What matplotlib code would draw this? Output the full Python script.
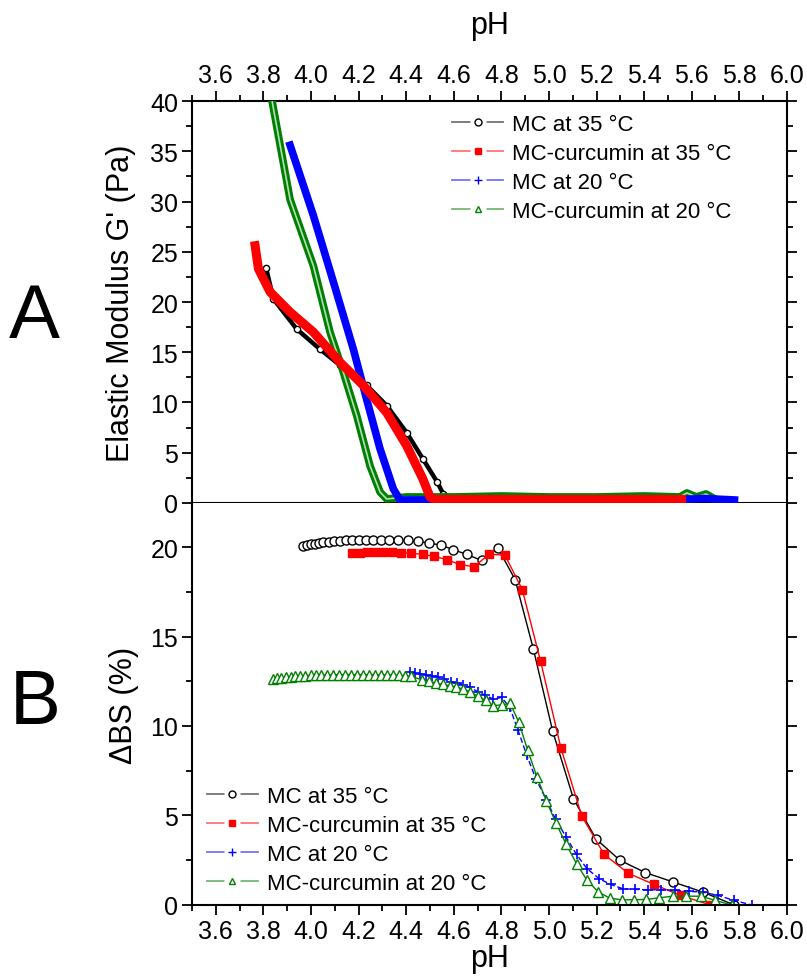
import matplotlib
matplotlib.use('Agg')
import matplotlib.pyplot as plt
from matplotlib.lines import Line2D
from matplotlib.ticker import MultipleLocator

plt.rcParams['font.family'] = ['Liberation Sans', 'DejaVu Sans']

# ---- panel A: elastic modulus G' vs pH ----
a_mc35_ph = [3.811, 3.842, 3.94, 4.038, 4.122, 4.234, 4.318, 4.402, 4.47, 4.53, 4.556, 4.60, 4.9, 5.2, 5.5]
a_mc35_g = [23.4, 20.3, 17.3, 15.3, 13.7, 11.7, 9.7, 7.0, 4.4, 2.1, 0.9, 0.4, 0.4, 0.4, 0.4]

a_cur35_ph = [3.765, 3.779, 3.828, 3.912, 4.01, 4.122, 4.22, 4.318, 4.402, 4.47, 4.5, 4.52, 5.0, 5.557]
a_cur35_g = [25.6, 23.3, 21.0, 19.0, 17.0, 14.0, 11.7, 9.0, 5.7, 2.4, 0.6, 0.35, 0.35, 0.35]

a_mc20_ph = [3.912, 4.01, 4.094, 4.178, 4.234, 4.29, 4.346, 4.374, 4.40, 5.0, 5.56, 5.65, 5.78]
a_mc20_g = [35.6, 28.6, 22.0, 15.3, 10.3, 5.4, 1.4, 0.3, 0.3, 0.35, 0.35, 0.45, 0.3]

a_cur20_ph = [3.837, 3.912, 4.01, 4.08, 4.136, 4.192, 4.248, 4.29, 4.318, 4.40, 4.6, 4.8, 5.0,
              5.2, 5.4, 5.55, 5.58, 5.62, 5.66, 5.69]
a_cur20_g = [39.9, 30.2, 23.6, 17.0, 13.0, 8.7, 3.7, 1.1, 0.4, 0.6, 0.6, 0.7, 0.6,
             0.6, 0.7, 0.6, 1.0, 0.6, 0.9, 0.5]

# ---- panel B: delta backscattering vs pH ----
b_mc35_ph = [3.965, 3.982, 3.999, 4.015, 4.032, 4.052, 4.074, 4.097, 4.122, 4.147, 4.172, 4.200,
             4.231, 4.262, 4.294, 4.329, 4.366, 4.406, 4.450, 4.494, 4.546, 4.598, 4.654, 4.717,
             4.786, 4.858, 4.935, 5.016, 5.103, 5.198, 5.298, 5.405, 5.523, 5.647, 5.779]
b_mc35_bs = [20.04, 20.11, 20.15, 20.19, 20.22, 20.26, 20.30, 20.32, 20.35, 20.37, 20.39, 20.41,
             20.42, 20.42, 20.42, 20.41, 20.39, 20.37, 20.32, 20.22, 20.11, 19.85, 19.59, 19.25,
             19.93, 18.18, 14.28, 9.70, 5.94, 3.69, 2.50, 1.81, 1.28, 0.72, 0.0]

b_cur35_ph = [4.174, 4.204, 4.235, 4.268, 4.303, 4.339, 4.378, 4.420, 4.469, 4.517, 4.570, 4.626,
              4.685, 4.748, 4.815, 4.888, 4.965, 5.050, 5.138, 5.232, 5.334, 5.441, 5.554, 5.679]
b_cur35_bs = [19.66, 19.68, 19.70, 19.70, 19.70, 19.70, 19.68, 19.65, 19.59, 19.48, 19.30, 19.02,
              18.90, 19.59, 19.55, 17.62, 13.62, 8.79, 4.97, 2.82, 1.77, 1.15, 0.53, 0.0]

b_mc20_ph = [4.416, 4.437, 4.458, 4.483, 4.507, 4.532, 4.560, 4.587, 4.612, 4.640, 4.668, 4.700,
             4.731, 4.766, 4.801, 4.835, 4.870, 4.907, 4.945, 4.989, 5.028, 5.072, 5.116, 5.160,
             5.211, 5.259, 5.310, 5.362, 5.416, 5.472, 5.529, 5.588, 5.647, 5.711, 5.780, 5.852]
b_mc20_bs = [13.0, 12.96, 12.91, 12.85, 12.81, 12.74, 12.61, 12.48, 12.40, 12.29, 12.16, 11.92,
             11.73, 11.50, 11.60, 11.05, 9.77, 8.36, 7.05, 5.88, 4.79, 3.80, 2.82, 2.03,
             1.47, 1.15, 0.91, 0.87, 0.85, 0.85, 0.82, 0.76, 0.72, 0.53, 0.25, 0.0]

b_cur20_ph = [3.842, 3.859, 3.875, 3.895, 3.915, 3.934, 3.954, 3.976, 3.999, 4.021, 4.043, 4.066,
              4.091, 4.116, 4.141, 4.167, 4.192, 4.217, 4.242, 4.268, 4.293, 4.318, 4.343, 4.368,
              4.394, 4.419, 4.465, 4.498, 4.526, 4.554, 4.583, 4.611, 4.639, 4.670, 4.701, 4.734,
              4.766, 4.803, 4.837, 4.873, 4.910, 4.950, 4.989, 5.029, 5.072, 5.116, 5.160, 5.208,
              5.256, 5.306, 5.357, 5.409, 5.464, 5.520, 5.578, 5.639, 5.700, 5.768]
b_cur20_bs = [12.61, 12.67, 12.70, 12.74, 12.76, 12.77, 12.79, 12.81, 12.83, 12.83, 12.85, 12.85,
              12.85, 12.87, 12.87, 12.87, 12.87, 12.87, 12.87, 12.87, 12.85, 12.85, 12.85, 12.83,
              12.81, 12.77, 12.59, 12.49, 12.40, 12.32, 12.25, 12.17, 12.06, 11.89, 11.67, 11.43,
              11.14, 11.18, 11.27, 10.22, 8.68, 7.14, 5.82, 4.60, 3.40, 2.31, 1.38, 0.72,
              0.38, 0.29, 0.29, 0.31, 0.40, 0.49, 0.49, 0.49, 0.25, 0.0]

labels = ['MC at 35 \u00b0C', 'MC-curcumin at 35 \u00b0C', 'MC at 20 \u00b0C', 'MC-curcumin at 20 \u00b0C']
colors = ['black', 'red', 'blue', 'green']
markers = ['o', 's', '+', '^']

fig = plt.figure(figsize=(8.07, 9.79), dpi=100)
ax1 = fig.add_axes([0.238, 0.4852, 0.737, 0.4106])
ax2 = fig.add_axes([0.238, 0.0746, 0.737, 0.4106])

# panel A curves (dense measurements -> thick bands)
ax1.plot(a_mc35_ph, a_mc35_g, color='black', lw=3.2, marker='o', ms=4.5, mfc='white', mew=1, zorder=2)
ax1.plot(a_cur20_ph, a_cur20_g, color='green', lw=5.5, zorder=3)
ax1.plot(a_cur20_ph, a_cur20_g, color='#b8dcb8', lw=1.2, zorder=3)
ax1.plot(a_mc20_ph, a_mc20_g, color='blue', lw=5.5, zorder=3)
ax1.plot(a_cur35_ph, a_cur35_g, color='red', lw=6.5, zorder=4)

# panel B curves
ax2.plot(b_mc35_ph, b_mc35_bs, color='black', lw=1, marker='o', ms=6.5, mfc='white', mew=1)
ax2.plot(b_cur35_ph, b_cur35_bs, color='red', lw=1, marker='s', ms=6, mec='red')
ax2.plot(b_mc20_ph, b_mc20_bs, color='blue', lw=1, ls=(0, (4, 2)), marker='+', ms=7.5, mew=1.2)
ax2.plot(b_cur20_ph, b_cur20_bs, color='green', lw=1, marker='^', ms=6.5, mfc='white', mew=1)

for ax in (ax1, ax2):
    ax.set_xlim(3.5, 6.0)
    ax.xaxis.set_major_locator(MultipleLocator(0.2))
    ax.xaxis.set_minor_locator(MultipleLocator(0.1))
    ax.yaxis.set_major_locator(MultipleLocator(5))
    ax.yaxis.set_minor_locator(MultipleLocator(2.5))
    for s in ax.spines.values():
        s.set_linewidth(1.5)
    ax.tick_params(which='both', direction='out', width=1.3, labelsize=18, pad=3)
    ax.tick_params(which='major', length=7)
    ax.tick_params(which='minor', length=4)

ax1.set_ylim(0, 40)
ax1.tick_params(axis='x', which='both', top=True, bottom=False, labeltop=True, labelbottom=False)
ax1.tick_params(axis='y', which='both', left=True, right=True, labelleft=True)
ax1.xaxis.set_label_position('top')
ax1.set_xlabel('pH', fontsize=22, labelpad=22)
ax1.set_ylabel("Elastic Modulus G' (Pa)", fontsize=22, labelpad=10)
ax1.xaxis.set_major_formatter(plt.FormatStrFormatter('%.1f'))

ax2.set_ylim(0, 22.46)
ax2.spines['top'].set_visible(False)
ax2.tick_params(axis='y', which='both', left=True, right=True)
ax2.set_xlabel('pH', fontsize=22, labelpad=0)
ax2.set_ylabel('\u0394BS (%)', fontsize=22, labelpad=8)
ax2.xaxis.set_major_formatter(plt.FormatStrFormatter('%.1f'))


def legend_handles():
    hs = []
    for c, m in zip(colors, markers):
        line = Line2D([], [], color=c, lw=1.3, alpha=0.55)
        bg = Line2D([], [], ls='none', marker='s', ms=12, mfc='white', mec='none')
        if m in ('o', '^'):
            mk = Line2D([], [], ls='none', marker=m, ms=5, mfc='white', mec=c, mew=1)
        elif m == '+':
            mk = Line2D([], [], ls='none', marker=m, ms=6, mec=c, mew=1)
        else:
            mk = Line2D([], [], ls='none', marker=m, ms=5, mfc=c, mec=c)
        hs.append((line, bg, mk))
    return hs


ax1.legend(legend_handles(), labels, loc='upper left', bbox_to_anchor=(0.437, 0.968),
           frameon=False, fontsize=16, handlelength=2.3, handletextpad=0.4,
           labelspacing=0.36, borderpad=0, borderaxespad=0)
ax2.legend(legend_handles(), labels, loc='lower left', bbox_to_anchor=(0.025, 0.028),
           frameon=False, fontsize=16, handlelength=2.3, handletextpad=0.4,
           labelspacing=0.36, borderpad=0, borderaxespad=0)

fig.text(0.043, 0.675, 'A', fontsize=55, ha='center', va='center')
fig.text(0.043, 0.28, 'B', fontsize=55, ha='center', va='center')

fig.savefig('out.png', dpi=100)
